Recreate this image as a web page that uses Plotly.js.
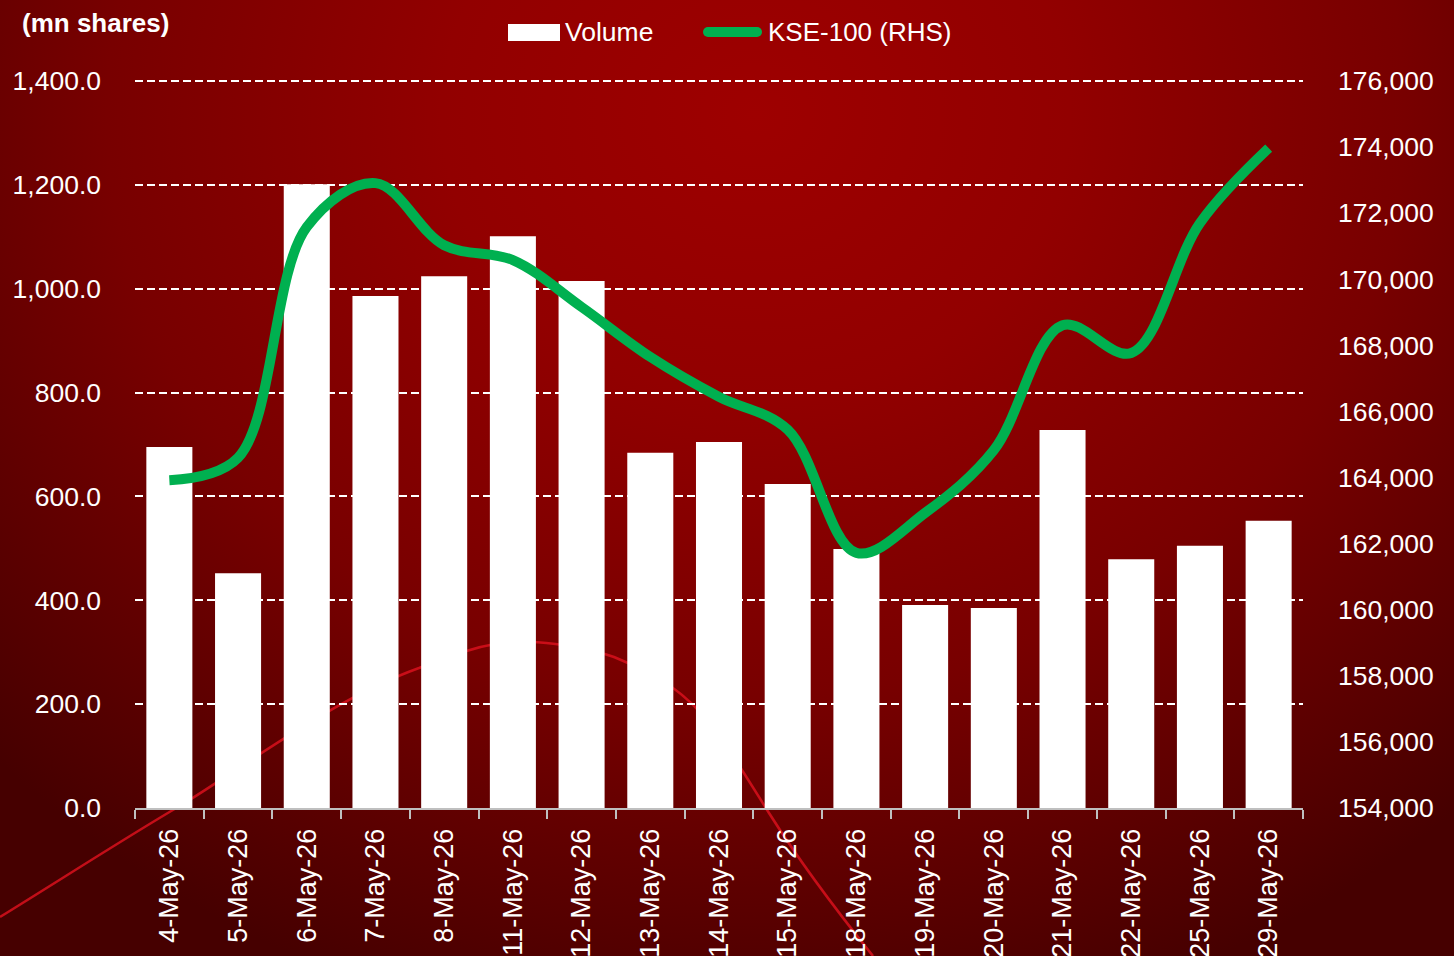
<!DOCTYPE html>
<html>
<head>
<meta charset="utf-8">
<script src="https://cdn.plot.ly/plotly-3.0.1.min.js"></script>
<style>
  html, body { margin:0; padding:0; width:1454px; height:956px; overflow:hidden; }
  body {
    background: radial-gradient(ellipse 72% 98% at 52% 12%, #9e0000 0%, #920000 30%, #780000 62%, #560000 88%, #460000 100%);
  }
  #deco { position:absolute; left:0; top:0; width:1454px; height:956px; }
  #chart { position:absolute; left:0; top:0; width:1454px; height:956px; }
</style>
</head>
<body>
<svg id="deco" viewBox="0 0 1454 956">
  <path d="M0,917 C60,880 130,835 178,807 C240,770 330,700 419,668 C450,656 470,648 500,643 C530,639 580,645 614,657 C650,672 675,685 700,712 C720,733 740,767 769,813 C800,862 840,915 873,956"
        fill="none" stroke="#d8101c" stroke-width="2.6" opacity="0.85"/>
</svg>
<div id="chart"></div>
<script>
const dates = ["4-May-26","5-May-26","6-May-26","7-May-26","8-May-26","11-May-26","12-May-26","13-May-26","14-May-26","15-May-26","18-May-26","19-May-26","20-May-26","21-May-26","22-May-26","25-May-26","29-May-26"];
const volume = [695, 452, 1201, 986, 1024, 1101, 1015, 684, 705, 624, 499, 391, 385, 728, 479, 505, 553];
const kse100 = [163920, 164600, 171580, 172910, 171030, 170580, 169160, 167650, 166440, 165450, 161720, 162930, 164830, 168610, 167770, 171700, 173970];
const volumeTicks = [0, 200, 400, 600, 800, 1000, 1200, 1400];
const kseTicks = [154000, 156000, 158000, 160000, 162000, 164000, 166000, 168000, 170000, 172000, 174000, 176000];
const volumeName = "Volume";
const kseName = "KSE-100 (RHS)";
const yTitle = "(mn shares)";

const FONT = "Liberation Sans, Arial, Helvetica, sans-serif";
const L = 135, R = 1303, T = 81, B = 808;
const W = 1454, H = 956;
const px = x => (x - L) / (R - L);
const py = y => (B - y) / (B - T);
const vMax = volumeTicks[volumeTicks.length - 1];

const traces = [
  {
    type: "bar", name: volumeName, x: dates, y: volume,
    marker: { color: "#ffffff", line: { width: 0 } },
    yaxis: "y", showlegend: false, hoverinfo: "x+y"
  },
  {
    type: "scatter", mode: "lines", name: kseName, x: dates, y: kse100,
    line: { color: "#00b050", width: 10, shape: "spline", smoothing: 1 },
    yaxis: "y2", showlegend: false, cliponaxis: false
  }
];

const layout = {
  width: W, height: H,
  paper_bgcolor: "rgba(0,0,0,0)",
  plot_bgcolor: "rgba(0,0,0,0)",
  margin: { l: L, r: W - R, t: T, b: H - B, pad: 0 },
  font: { family: FONT, size: 26.5, color: "#ffffff" },
  bargap: 0.33,
  showlegend: false,
  xaxis: {
    type: "category", automargin: false,
    showline: true, linecolor: "#bfbfbf", linewidth: 2,
    ticks: "outside", tickson: "boundaries", ticklen: 9, tickwidth: 2, tickcolor: "#bfbfbf",
    tickangle: -90, ticklabelstandoff: 8,
    tickfont: { family: FONT, size: 27, color: "#ffffff" },
    showgrid: false, zeroline: false
  },
  yaxis: {
    range: [0, vMax], tickvals: volumeTicks, tickformat: ",.1f",
    automargin: false, showline: false, ticks: "", ticklabelstandoff: 33,
    showgrid: true, gridcolor: "#ffffff", gridwidth: 2, griddash: "8px,4px",
    zeroline: false, tickfont: { family: FONT, size: 26.5, color: "#ffffff" }
  },
  yaxis2: {
    overlaying: "y", side: "right",
    range: [kseTicks[0], kseTicks[kseTicks.length - 1]], tickvals: kseTicks, tickformat: ",d",
    automargin: false, showline: false, ticks: "", ticklabelstandoff: 34,
    showgrid: false, zeroline: false, tickfont: { family: FONT, size: 26.5, color: "#ffffff" }
  },
  shapes: [
    { type: "line", xref: "paper", yref: "paper", x0: 0, x1: 1, y0: 1, y1: 1, layer: "below",
      line: { color: "#ffffff", width: 2, dash: "8px,4px" } },
    { type: "rect", xref: "paper", yref: "paper", x0: px(508), x1: px(560), y0: py(41), y1: py(24),
      fillcolor: "#ffffff", line: { width: 0 } },
    { type: "line", xref: "paper", yref: "paper", x0: px(708), x1: px(757), y0: py(32), y1: py(32),
      line: { color: "#00b050", width: 10 } },
    { type: "circle", xref: "paper", yref: "paper", x0: px(703), x1: px(713), y0: py(37), y1: py(27),
      fillcolor: "#00b050", line: { width: 0 } },
    { type: "circle", xref: "paper", yref: "paper", x0: px(752), x1: px(762), y0: py(37), y1: py(27),
      fillcolor: "#00b050", line: { width: 0 } }
  ],
  annotations: [
    { xref: "paper", yref: "paper", x: px(20), y: py(23), xanchor: "left", yanchor: "middle",
      text: "<b>" + yTitle + "</b>", showarrow: false, font: { family: FONT, size: 26, color: "#ffffff" } },
    { xref: "paper", yref: "paper", x: px(563), y: py(32), xanchor: "left", yanchor: "middle",
      text: volumeName, showarrow: false, font: { family: FONT, size: 26.5, color: "#ffffff" } },
    { xref: "paper", yref: "paper", x: px(766), y: py(32), xanchor: "left", yanchor: "middle",
      text: kseName, showarrow: false, font: { family: FONT, size: 26, color: "#ffffff" } }
  ]
};

Plotly.newPlot("chart", traces, layout, { displayModeBar: false, staticPlot: true });
</script>
</body>
</html>
